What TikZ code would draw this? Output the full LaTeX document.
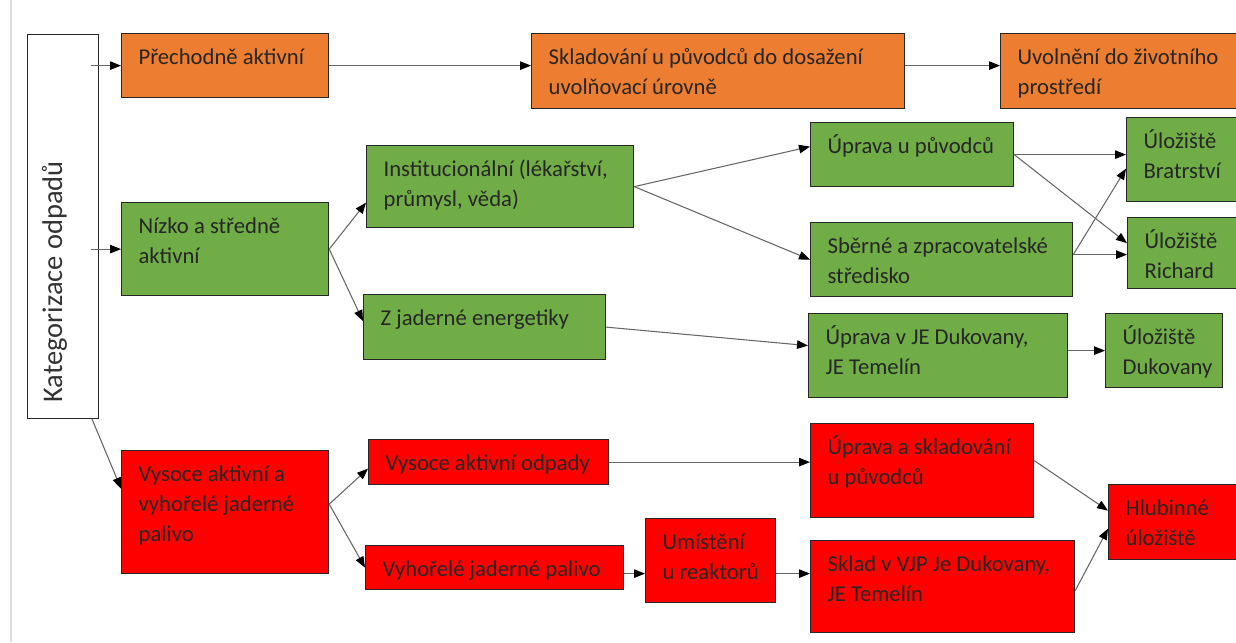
\documentclass[tikz,border=0pt]{standalone}
\usepackage{fontspec}
\setmainfont{Carlito}
\usetikzlibrary{arrows.meta, calc}
\hyphenpenalty=10000
\newcommand{\stagetext}[3]{\parbox[t][#2cm][t]{#1cm}{\raggedright\strut #3}}
\tikzset{
	stage/.style={draw=black!85, line width=0.7pt, anchor=north west, inner xsep=0.34cm, inner ysep=0.2cm, text=black!85, font=\fontsize{12.9}{17}\selectfont},
	flow/.style={draw=black!60, line width=0.6pt, -{Triangle[length=0.22cm, width=0.17cm, color=black]}}
}

\begin{document}
\begin{tikzpicture}
	\definecolor{orangebox}{RGB}{237,125,49}
	\definecolor{greenbox}{RGB}{112,173,71}
	\definecolor{redbox}{RGB}{255,0,0}

	\useasboundingbox (0,0) rectangle (24.72,-12.84);
	\draw[black!12, line width=0.6pt] (0.22,0) -- (0.22,-12.84);

	\node (kat) at (1.98,-8.38) [stage, anchor=south west, rotate=90, inner xsep=0.32cm, inner ysep=0.18cm, text=black!80, font=\fontsize{16.2}{21}\selectfont] {\stagetext{7.04}{1.06}{Kategorizace odpadů}};

	\node (prech) at (2.42,-0.66) [stage, fill=orangebox] {\stagetext{3.46}{0.88}{Přechodně aktivní}};
	\node (skl) at (10.62,-0.66) [stage, fill=orangebox] {\stagetext{6.78}{1.1}{Skladování u původců do dosažení\\uvolňovací úrovně}};
	\node (uvol) at (20.0,-0.66) [stage, fill=orangebox] {\stagetext{4.06}{1.1}{Uvolnění do životního\\prostředí}};

	\node (nizko) at (2.42,-4.04) [stage, fill=greenbox] {\stagetext{3.46}{1.46}{Nízko a středně\\aktivní}};
	\node (inst) at (7.32,-2.9) [stage, fill=greenbox] {\stagetext{4.66}{1.24}{Institucionální (lékařství,\\průmysl, věda)}};
	\node (zjad) at (7.26,-5.88) [stage, fill=greenbox] {\stagetext{4.16}{0.9}{Z jaderné energetiky}};
	\node (upr) at (16.2,-2.44) [stage, fill=greenbox] {\stagetext{3.38}{0.88}{Úprava u původců}};
	\node (sber) at (16.2,-4.44) [stage, fill=greenbox] {\stagetext{4.56}{1.08}{Sběrné a zpracovatelské\\středisko}};
	\node (bratr) at (22.52,-2.34) [stage, fill=greenbox] {\stagetext{1.54}{1.28}{Úložiště\\Bratrství}};
	\node (rich) at (22.54,-4.34) [stage, fill=greenbox] {\stagetext{1.52}{1.02}{Úložiště\\Richard}};
	\node (uprje) at (16.16,-6.26) [stage, fill=greenbox] {\stagetext{4.5}{1.28}{Úprava v JE Dukovany,\\JE Temelín}};
	\node (dukov) at (22.1,-6.26) [stage, fill=greenbox] {\stagetext{1.66}{1.08}{Úložiště\\Dukovany}};

	\node (vys) at (2.42,-9.0) [stage, fill=redbox] {\stagetext{3.46}{2.06}{Vysoce aktivní a\\vyhořelé jaderné\\palivo}};
	\node (vao) at (7.36,-8.78) [stage, fill=redbox] {\stagetext{4.12}{0.5}{Vysoce aktivní odpady}};
	\node (vyh) at (7.3,-10.9) [stage, fill=redbox] {\stagetext{4.48}{0.48}{Vyhořelé jaderné palivo}};
	\node (umis) at (12.9,-10.36) [stage, fill=redbox] {\stagetext{1.92}{1.28}{Umístění\\u reaktorů}};
	\node (uprsk) at (16.2,-8.46) [stage, fill=redbox] {\stagetext{3.78}{1.48}{Úprava a skladování\\u původců}};
	\node (sklad) at (16.2,-10.8) [stage, fill=redbox] {\stagetext{4.6}{1.44}{Sklad v VJP Je Dukovany,\\JE Temelín}};
	\node (hlub) at (22.16,-9.68) [stage, fill=redbox] {\stagetext{1.9}{1.1}{Hlubinné\\úložiště}};

	\coordinate (sbout) at ([yshift=0.1cm]sber.east);
	\coordinate (spent) at ([yshift=-0.12cm]vyh.east);

	\draw[flow] ([xshift=-0.16cm]kat.south |- prech.west) -- (prech.west);
	\draw[flow] ([xshift=-0.16cm]kat.south |- nizko.west) -- (nizko.west);
	\draw[flow] ([xshift=-0.14cm]kat.south west) -- ([yshift=0.47cm]vys.west);

	\draw[flow] (prech.east) -- (skl.west |- prech.east);
	\draw[flow] (skl.east |- prech.east) -- (uvol.west |- prech.east);

	\draw[flow] (nizko.east) -- ([yshift=-0.32cm]inst.west);
	\draw[flow] (nizko.east) -- ([yshift=0.12cm]zjad.west);
	\draw[flow] (inst.east) -- ([yshift=0.16cm]upr.west);
	\draw[flow] (inst.east) -- (sber.west);
	\draw[flow] (upr.east) -- (bratr.west |- upr.east);
	\draw[flow] (upr.east) -- ([yshift=0.2cm]rich.west);
	\draw[flow] (sbout) -- ([yshift=-0.18cm]bratr.west);
	\draw[flow] (sbout) -- (rich.west |- sbout);
	\draw[flow] (zjad.east) -- ([yshift=0.2cm]uprje.west);
	\draw[flow] (dukov.west -| uprje.east) -- (dukov.west);

	\draw[flow] ([yshift=0.16cm]vys.east) -- ([yshift=-0.13cm]vao.west);
	\draw[flow] ([yshift=0.16cm]vys.east) -- (vyh.west);
	\draw[flow] (vao.east) -- (uprsk.west |- vao.east);
	\draw[flow] (spent) -- (umis.west |- spent);
	\draw[flow] (umis.east |- spent) -- (sklad.west |- spent);
	\draw[flow] ([yshift=0.2cm]uprsk.east) -- ([yshift=0.23cm]hlub.west);
	\draw[flow] ([yshift=-0.08cm]sklad.east) -- ([yshift=-0.13cm]hlub.west);
\end{tikzpicture}
\end{document}
